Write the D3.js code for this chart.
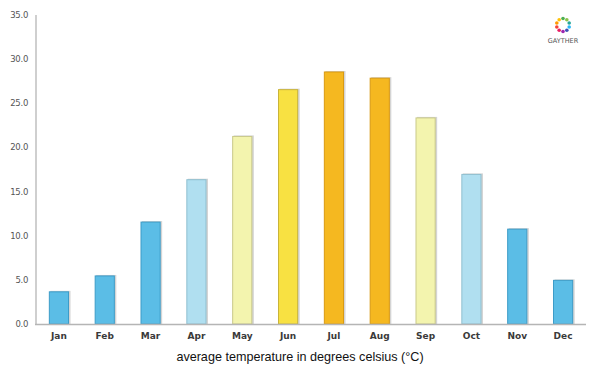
<!DOCTYPE html>
<html>
<head>
<meta charset="utf-8">
<script src="https://cdn.jsdelivr.net/npm/d3@7"></script>
<style>
  body { margin: 0; background: #fff; }
  svg text { font-family: "DejaVu Sans", sans-serif; }
</style>
</head>
<body>
<div id="chart"></div>
<script>
// Data
const months = ["Jan", "Feb", "Mar", "Apr", "May", "Jun", "Jul", "Aug", "Sep", "Oct", "Nov", "Dec"];
const temperatures = [3.7, 5.5, 11.6, 16.4, 21.3, 26.6, 28.6, 27.9, 23.4, 17.0, 10.8, 5.0];
const yTicks = [0, 5, 10, 15, 20, 25, 30, 35];

function draw() {
    // Dimensions
    let dimensions = {
        width: 600,
        height: 375,
        left: 36,
        right: 586,
        top: 15,
        bottom: 324,
    };

    const svg = d3.select('#chart')
        .append('svg')
        .attr('width', dimensions.width)
        .attr('height', dimensions.height);

    // Scales
    const x = d3.scaleBand()
        .domain(months)
        .range([dimensions.left, dimensions.right])
        .paddingInner(0.56)
        .paddingOuter(0.28);

    const y = d3.scaleLinear()
        .domain([0, 35])
        .range([dimensions.bottom, dimensions.top]);

    const fill = t => t < 12 ? '#5bbde6' : t < 18 ? '#b0dff0' : t < 24 ? '#f3f4ae' : t < 27 ? '#f8e142' : '#f5b820';
    const stroke = t => t < 12 ? '#3d9cc8' : t < 18 ? '#8fbfd0' : t < 24 ? '#c9c98a' : t < 27 ? '#c9b43a' : '#d99a12';

    // Bars (with a soft shadow on the right)
    const bars = svg.append('g');
    bars.selectAll('rect.shadow')
        .data(temperatures)
        .join('rect')
        .attr('class', 'shadow')
        .attr('x', (d, i) => x(months[i]) + 1.5)
        .attr('y', d => y(d) - 0.5)
        .attr('width', x.bandwidth())
        .attr('height', d => y(0) - y(d) + 0.5)
        .attr('fill', '#d4d4d4');

    bars.selectAll('rect.bar')
        .data(temperatures)
        .join('rect')
        .attr('class', 'bar')
        .attr('x', (d, i) => x(months[i]) + 0.5)
        .attr('y', d => y(d) + 0.5)
        .attr('width', x.bandwidth() - 1)
        .attr('height', d => y(0) - y(d) - 0.5)
        .attr('fill', d => fill(d))
        .attr('stroke', d => stroke(d))
        .attr('stroke-width', 1);

    // Axes
    svg.append('line')
        .attr('x1', dimensions.left).attr('x2', dimensions.left)
        .attr('y1', dimensions.top).attr('y2', dimensions.bottom)
        .attr('stroke', '#cfcfcf').attr('stroke-width', 2);

    svg.append('line')
        .attr('x1', dimensions.left - 1).attr('x2', dimensions.right)
        .attr('y1', dimensions.bottom + 0.5).attr('y2', dimensions.bottom + 0.5)
        .attr('stroke', '#b5b5b5').attr('stroke-width', 1.5);

    svg.append('g')
        .selectAll('text')
        .data(yTicks)
        .join('text')
        .attr('x', 28)
        .attr('y', d => y(d) + 3)
        .attr('text-anchor', 'end')
        .attr('font-size', 8.5)
        .attr('fill', '#555')
        .attr('letter-spacing', -0.3)
        .text(d => d.toFixed(1));

    svg.append('g')
        .selectAll('text')
        .data(months)
        .join('text')
        .attr('x', d => x(d) + x.bandwidth() / 2)
        .attr('y', 339)
        .attr('text-anchor', 'middle')
        .attr('font-size', 9)
        .attr('font-weight', 'bold')
        .attr('fill', '#3a3a3a')
        .text(d => d);

    svg.append('text')
        .attr('x', 300)
        .attr('y', 361)
        .attr('text-anchor', 'middle')
        .style('font-family', '"Liberation Sans", Arial, sans-serif')
        .attr('font-size', 12.6)
        .attr('fill', '#111')
        .text('average temperature in degrees celsius (°C)');

    // Logo
    const logo = svg.append('g').attr('transform', 'translate(563, 25)');
    const logoColors = ['#4caf50', '#8bc34a', '#26a69a', '#29b6f6', '#3f51b5', '#9c27b0', '#e91e63', '#f44336', '#ff9800', '#ffc107'];
    logo.selectAll('circle')
        .data(logoColors)
        .join('circle')
        .attr('cx', (d, i) => 6.5 * Math.cos(i / logoColors.length * 2 * Math.PI - Math.PI / 2))
        .attr('cy', (d, i) => 6.5 * Math.sin(i / logoColors.length * 2 * Math.PI - Math.PI / 2))
        .attr('r', 1.8)
        .attr('fill', d => d);
    logo.append('text')
        .attr('y', 18)
        .attr('text-anchor', 'middle')
        .attr('font-size', 6.5)
        .attr('fill', '#555')
        .text('GAYTHER');
}

draw();
</script>
</body>
</html>
